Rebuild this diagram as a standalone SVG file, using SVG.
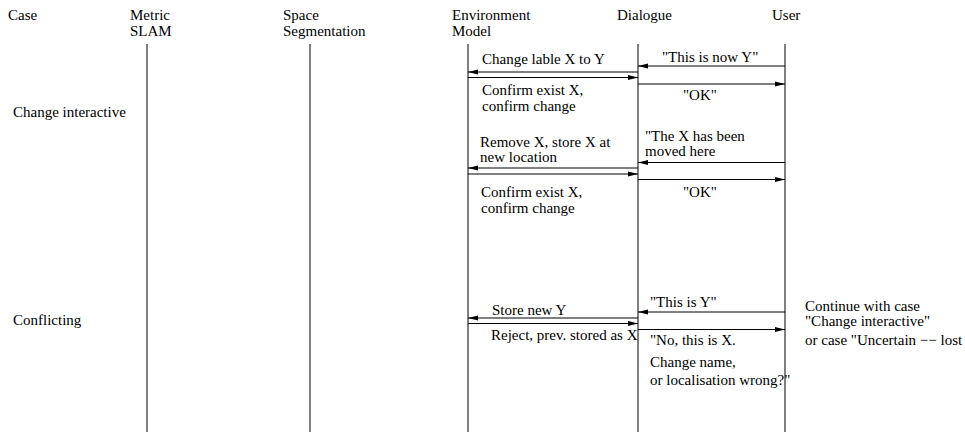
<svg xmlns="http://www.w3.org/2000/svg" width="965" height="432" viewBox="0 0 965 432">
  <style>
    text { font-family: "Liberation Serif", "Times New Roman", serif; font-size: 15px; fill: #000; }
    .life { stroke: #000; stroke-width: 1; fill: none; }
    .msg { stroke: #000; stroke-width: 1; fill: none; marker-end: url(#head); }
  </style>
  <defs>
    <marker id="head" viewBox="0 0 10 6" refX="10" refY="3" markerWidth="10" markerHeight="6" markerUnits="userSpaceOnUse" orient="auto">
      <path d="M0,0.5 L10,3 L0,5.5 Z" fill="#000"/>
    </marker>
  </defs>
  <rect width="965" height="432" fill="#fff"/>

  <!-- column headers and lifelines -->
  <g id="case">
    <text x="8" y="20">Case</text>
  </g>
  <g id="metric-slam">
    <text x="130" y="20">Metric</text>
    <text x="130" y="36">SLAM</text>
    <line class="life" x1="147" y1="44" x2="147" y2="432"/>
  </g>
  <g id="space-segmentation">
    <text x="283" y="20">Space</text>
    <text x="283" y="36">Segmentation</text>
    <line class="life" x1="310" y1="44" x2="310" y2="432"/>
  </g>
  <g id="environment-model">
    <text x="452" y="20">Environment</text>
    <text x="452" y="36">Model</text>
    <line class="life" x1="468" y1="44" x2="468" y2="432"/>
  </g>
  <g id="dialogue">
    <text x="617" y="20">Dialogue</text>
    <line class="life" x1="638" y1="44" x2="638" y2="432"/>
  </g>
  <g id="user">
    <text x="772" y="20">User</text>
    <line class="life" x1="785" y1="44" x2="785" y2="432"/>
  </g>

  <!-- case labels -->
  <g id="case-change-interactive">
    <text x="13" y="117">Change interactive</text>
  </g>
  <g id="case-conflicting">
    <text x="13" y="325">Conflicting</text>
  </g>

  <!-- messages -->
  <g id="connectors">
    <line class="msg" x1="785" y1="66" x2="638" y2="66"/>
    <line class="msg" x1="638" y1="72" x2="468" y2="72"/>
    <line class="msg" x1="468" y1="77.5" x2="638" y2="77.5"/>
    <line class="msg" x1="638" y1="84" x2="785" y2="84"/>

    <line class="msg" x1="785" y1="162.5" x2="638" y2="162.5"/>
    <line class="msg" x1="638" y1="168" x2="468" y2="168"/>
    <line class="msg" x1="468" y1="174" x2="638" y2="174"/>
    <line class="msg" x1="638" y1="179.5" x2="785" y2="179.5"/>

    <line class="msg" x1="785" y1="312" x2="638" y2="312"/>
    <line class="msg" x1="638" y1="318" x2="468" y2="318"/>
    <line class="msg" x1="468" y1="323.5" x2="638" y2="323.5"/>
    <line class="msg" x1="638" y1="329.5" x2="785" y2="329.5"/>
  </g>

  <!-- message labels -->
  <g id="labels-change">
    <text x="662" y="62">"This is now Y"</text>
    <text x="482" y="64">Change lable X to Y</text>
    <text x="482" y="95">Confirm exist X,</text>
    <text x="482" y="111">confirm change</text>
    <text x="683" y="100">"OK"</text>

    <text x="645" y="141">"The X has been</text>
    <text x="645" y="156">moved here</text>
    <text x="480" y="147">Remove X, store X at</text>
    <text x="480" y="162">new location</text>
    <text x="481" y="197">Confirm exist X,</text>
    <text x="481" y="213">confirm change</text>
    <text x="683" y="197">"OK"</text>
  </g>

  <g id="labels-conflicting">
    <text x="650" y="307">"This is Y"</text>
    <text x="492" y="315">Store new Y</text>
    <text x="491" y="340">Reject, prev. stored as X</text>
    <text x="650" y="345">"No, this is X.</text>
    <text x="650" y="367">Change name,</text>
    <text x="650" y="385">or localisation wrong?"</text>
  </g>

  <g id="note-continue">
    <text x="805" y="311">Continue with case</text>
    <text x="805" y="326">"Change interactive"</text>
    <text x="805" y="345">or case "Uncertain −− lost</text>
  </g>
</svg>
